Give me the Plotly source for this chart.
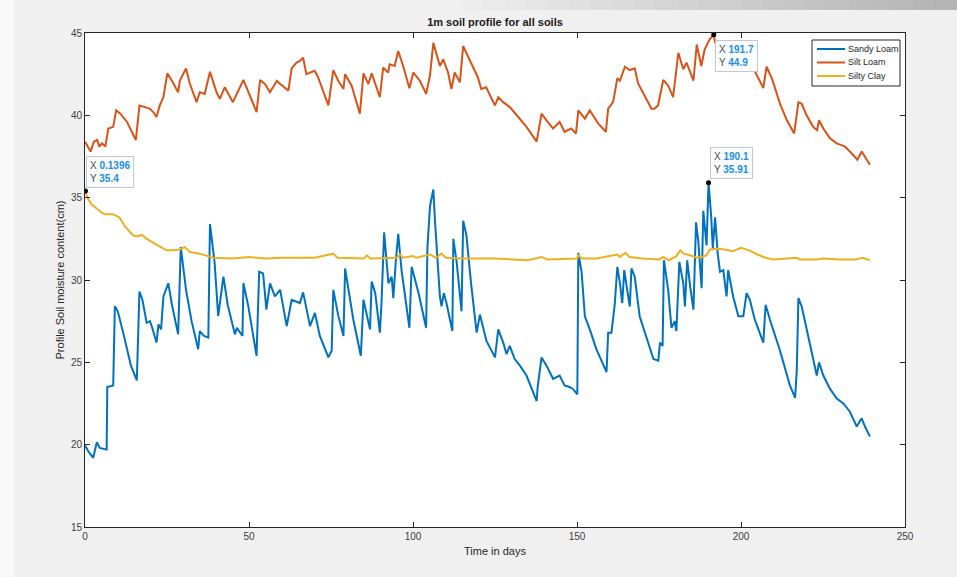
import plotly.graph_objects as go

# ---------------- data ----------------
sandy_days = [0, 1, 2.5, 3.6, 4.5, 6.6, 6.8, 8.6, 9.1, 10, 12, 14, 15.8, 16.6, 17.5, 18.8, 19.8, 20.5,
              21.8, 22.4, 23.2, 23.9, 25.4, 26.5, 28.4, 29.2, 30.8, 32.5, 34.5, 35, 36.3, 37.6, 38.1,
              39.5, 40.6, 42.2, 43.5, 45.7, 46.3, 47.5, 48, 48.3, 49.8, 52.3, 53.1, 54.3, 55.3, 56.4,
              57.9, 59.5, 61.5, 63, 65.5, 66.5, 68.6, 70.1, 71.6, 74.2, 75.2, 75.7, 77.2, 78.8, 79.3,
              81.8, 84.1, 84.9, 86.9, 87.4, 88.5, 89.9, 90.4, 91.2, 92.5, 93.5, 94.0, 94.7, 95.5, 96.5,
              98.9, 99.6, 101.7, 104, 104.4, 105.2, 106.2, 106.7, 108.2, 108.7, 109.4, 110.2, 112,
              112.3, 113.3, 114.8, 115.3, 116.3, 117.7, 119.4, 120.4, 122.4, 125, 126, 127.5, 128.5,
              129.5, 131, 132.6, 134.6, 137.7, 138, 139.2, 140.7, 142.7, 144.7, 146.2, 147.7, 148.7,
              150.1, 150.4, 151.4, 152.4, 153.9, 155.9, 159, 159.5, 160.5, 161.5, 162.3, 163.1, 163.8,
              164.4, 165.3, 166.1, 166.6, 167.6, 169.1, 171.8, 173.3, 174.8, 175.3, 176.1, 176.5,
              177.8, 178.8, 179.8, 180.3, 181.2, 182.4, 182.9, 183.6, 184.5, 185.5, 186.3, 187, 188,
              188.5, 189.5, 190.1, 190.9, 191.4, 192.1, 192.9, 193.6, 194.6, 195.6, 196.1, 197.6,
              199.2, 200.7, 201.7, 202.7, 204.2, 206.8, 207.5, 208.8, 211.9, 214.9, 216.5, 217, 217.5,
              218.5, 220, 222, 223.1, 223.8, 225.1, 227.1, 229.2, 231.2, 233.2, 235.3, 236.8, 237.8,
              239.3]
sandy_loam = [19.95, 19.6, 19.2, 20.15, 19.8, 19.7, 23.5, 23.6, 28.4, 28.1, 26.5, 24.8, 23.9, 29.3, 28.8,
              27.4, 27.5, 27.1, 26.2, 27.3, 27.0, 29.0, 29.8, 28.5, 26.7, 32.0, 29.4, 27.5, 25.8, 26.9,
              26.6, 26.5, 33.4, 31.1, 27.8, 30.2, 28.5, 26.7, 27.1, 26.7, 26.6, 29.8, 28.4, 25.4, 30.5,
              30.4, 28.2, 29.8, 29.0, 29.4, 27.2, 28.8, 28.6, 29.25, 27.2, 28.0, 26.6, 25.3, 25.7, 29.4,
              27.85, 26.6, 30.7, 27.6, 25.4, 28.8, 27.0, 29.9, 29.2, 26.8, 28.6, 32.9, 29.8, 30.2, 28.9,
              31.0, 32.8, 30.6, 27.1, 30.8, 29.2, 27.1, 32.0, 34.5, 35.5, 33.6, 29.0, 28.4, 29.2, 28.6,
              26.9, 32.5, 31.1, 28.1, 33.6, 32.7, 29.8, 26.8, 27.9, 26.3, 25.3, 27.0, 26.2, 25.5, 26.0,
              25.2, 24.8, 24.2, 22.65, 23.5, 25.3, 24.8, 24.0, 24.2, 23.6, 23.5, 23.4, 23.06, 31.65,
              30.5, 27.8, 27.0, 25.8, 24.4, 26.8, 26.8, 28.5, 30.8, 29.8, 28.6, 30.6, 29.4, 28.4, 30.7,
              30.2, 27.8, 26.2, 25.2, 25.1, 26.2, 26.0, 31.2, 29.4, 27.1, 27.5, 26.9, 31.1, 29.8, 28.4,
              31.2, 29.6, 28.2, 33.5, 32.3, 29.5, 34.2, 32.1, 35.91, 33.9, 31.9, 33.8, 31.6, 30.5, 30.6,
              29.0, 30.6, 29.0, 27.8, 27.8, 29.2, 28.8, 27.6, 26.2, 28.5, 27.6, 25.7, 23.6, 22.85, 24.5,
              28.9, 28.4, 27.0, 25.3, 24.2, 25.0, 24.2, 23.4, 22.8, 22.5, 22.0, 21.1, 21.6, 21.1, 20.5]

silt_days = [0, 0.8, 1.7, 2.7, 3.7, 4.4, 5.2, 6.2, 7.1, 8.6, 9.5, 10.8, 12.8, 15.5, 16.6, 18.3, 19.8, 20.8,
             21.8, 22.8, 23.9, 25.1, 26.5, 28.4, 28.9, 30.8, 32, 34, 35, 36.5, 38.1, 40.1, 41.1, 42.6,
             45.1, 48.3, 49.8, 52.3, 53.4, 54.9, 56.4, 58.5, 59.5, 62, 63, 64.5, 65.5, 66.5, 67.5, 70,
             71, 73, 74.2, 75.7, 77.2, 78.8, 79.3, 81.3, 83.8, 84.9, 86.4, 87.4, 89.9, 90.9, 92.4, 92.9,
             94.4, 95.5, 97, 98.9, 100.1, 102.1, 104, 105.2, 106.2, 108.2, 109.2, 110.7, 111.7, 112.7,
             114.3, 115.3, 117.3, 119.8, 120.8, 122.3, 125, 126, 127.5, 129.5, 132.1, 134.6, 137.7,
             139.2, 140.7, 142.7, 144.7, 146.2, 148.2, 149.7, 150.4, 152.4, 153.9, 156.5, 158.8, 159.5,
             161.0, 162.3, 163.1, 164.6, 166.1, 167.6, 168.6, 170.6, 172.7, 173.6, 174.7, 176.3, 177.8,
             179.3, 180.9, 182.4, 183.4, 185.5, 186.5, 187.9, 188.9, 190.4, 191.7, 192.1, 192.6, 195,
             198, 201, 203.5, 204.3, 206.8, 207.8, 209.5, 211.9, 214, 216.2, 216.9, 217.5, 218.5, 220,
             222, 223.2, 223.8, 225.1, 227.1, 229.2, 231.2, 231.7, 233.7, 235.5, 236.8, 237.8, 239.3]
silt_loam = [38.4, 38.1, 37.8, 38.4, 38.5, 38.1, 38.3, 38.1, 39.2, 39.3, 40.3, 40.1, 39.6, 38.5, 40.6, 40.5,
             40.4, 40.2, 39.9, 40.6, 41.1, 42.55, 42.1, 41.4, 42.1, 42.85, 41.9, 40.8, 41.4, 41.3, 42.65,
             41.4, 41.0, 41.7, 40.8, 42.15, 41.4, 40.2, 42.15, 41.9, 41.4, 42.1, 41.9, 41.5, 42.85, 43.2,
             43.3, 43.5, 42.5, 42.7, 42.35, 41.2, 40.6, 42.75, 42.1, 41.6, 42.5, 41.8, 40.1, 42.55, 41.9,
             42.55, 41.1, 42.9, 42.6, 43.1, 43.0, 43.9, 43.0, 41.65, 42.6, 42.1, 41.3, 42.45, 44.4, 43.0,
             43.4, 42.6, 41.6, 42.6, 42.0, 44.2, 43.35, 42.3, 41.6, 41.7, 40.6, 41.1, 40.8, 40.5, 39.9,
             39.3, 38.4, 40.1, 39.7, 39.2, 39.6, 39.0, 39.2, 38.9, 40.3, 39.8, 40.3, 39.5, 39.0, 40.4,
             40.8, 42.25, 42.1, 42.95, 42.75, 42.85, 41.95, 41.2, 40.4, 40.4, 40.6, 42.15, 41.8, 41.1,
             43.8, 42.8, 43.2, 42.1, 44.3, 43.0, 44.0, 44.6, 44.9, 44.4, 44.5, 43.6, 43.2, 43.0, 42.9,
             42.65, 41.65, 42.95, 42.2, 40.7, 39.7, 38.9, 39.9, 40.8, 40.7, 40.0, 39.3, 39.1, 39.7, 39.2,
             38.6, 38.3, 38.15, 38.1, 37.7, 37.3, 37.8, 37.5, 37.0]

clay_days = [0, 1, 2, 3.6, 5, 6.1, 8.5, 10.5, 12.2, 14.7, 16.2, 17.2, 18.8, 21.8, 24.9, 26.4, 28.9, 30.4,
             32, 35, 39.1, 45, 50, 55, 60, 65.5, 70, 75.7, 77, 85, 86, 87, 95, 96, 97, 100, 101, 105.2,
             107, 108.7, 110, 115, 125, 135, 139.2, 141, 150, 150.4, 151.5, 156, 162.3, 163, 164.8, 166,
             170, 175, 176.3, 178, 180.3, 181.5, 182.5, 184.5, 186.5, 188, 189.5, 190.5, 193, 195,
             197.5, 200, 202.5, 205, 207.5, 210, 214.9, 217, 218, 223, 225, 230, 235, 237, 239.3]
silty_clay = [35.4, 34.9, 34.6, 34.3, 34.1, 34.0, 34.0, 33.8, 33.25, 32.7, 32.65, 32.75, 32.5, 32.15, 31.8,
              31.8, 31.85, 32.0, 31.7, 31.6, 31.35, 31.3, 31.4, 31.3, 31.35, 31.35, 31.35, 31.6, 31.35,
              31.3, 31.5, 31.3, 31.35, 31.55, 31.35, 31.45, 31.35, 31.55, 31.35, 31.6, 31.35, 31.3, 31.3,
              31.2, 31.4, 31.25, 31.3, 31.5, 31.3, 31.3, 31.55, 31.4, 31.65, 31.4, 31.3, 31.25, 31.4,
              31.2, 31.45, 31.8, 31.6, 31.5, 31.35, 31.4, 31.5, 31.85, 31.9, 31.85, 31.75, 31.95, 31.8,
              31.55, 31.35, 31.25, 31.3, 31.35, 31.25, 31.25, 31.3, 31.25, 31.25, 31.35, 31.2]

tip_x = [0.1396, 191.7, 190.1]
tip_y = [35.4, 44.9, 35.91]
tip_xlabel = ["0.1396", "191.7", "190.1"]
tip_ylabel = ["35.4", "44.9", "35.91"]

series_names = ["Sandy Loam", "Silt Loam", "Silty Clay"]
series_colors = ["#0072BD", "#D95319", "#EDB120"]

x_ticks = [0, 50, 100, 150, 200, 250]
y_ticks = [15, 20, 25, 30, 35, 40, 45]

# ---------------- figure ----------------
FONT = "Liberation Sans Narrow, Liberation Sans, Arial, sans-serif"
L, R, T, B, W, H = 85, 52, 33, 50, 957, 577
PW, PH = W - L - R, H - T - B


def px2paper(px, py):
    return (px - L) / PW, (H - B - py) / PH


fig = go.Figure()
for xs, ys, nm, col in zip([sandy_days, silt_days, clay_days], [sandy_loam, silt_loam, silty_clay],
                           series_names, series_colors):
    fig.add_trace(go.Scatter(x=xs, y=ys, mode="lines", name=nm, showlegend=False,
                             line=dict(color=col, width=2)))
fig.add_trace(go.Scatter(x=tip_x, y=tip_y, mode="markers", showlegend=False,
                         marker=dict(color="black", size=5)))

# data tips
anchors = [("left", "bottom", 3), ("left", "top", -5), ("left", "bottom", 4)]
for (xa, ya, ys), x, y, xl, yl in zip(anchors, tip_x, tip_y, tip_xlabel, tip_ylabel):
    fig.add_annotation(
        x=x, y=y, xref="x", yref="y", showarrow=False, xanchor=xa, yanchor=ya, yshift=ys, xshift=1,
        align="left",
        text=f"X <b><span style='color:#1a8fe8'>{xl}</span></b><br>Y <b><span style='color:#1a8fe8'>{yl}</span></b>",
        font=dict(family=FONT, size=10, color="#4d4d4d"),
        bgcolor="#fbfcfd", bordercolor="#c4c8cc", borderwidth=1, borderpad=3)

# background decorations (screenshot frame)
shapes = []
x0, y0 = px2paper(0, 577)
x1, y1 = px2paper(14, 0)
shapes.append(dict(type="rect", xref="paper", yref="paper", x0=x0, x1=x1, y0=y0, y1=y1,
                   fillcolor="#f8f8f8", line=dict(width=0), layer="below"))
nstrip = 24
for i in range(nstrip):
    p0 = 440 + i * (517 / nstrip)
    p1 = p0 + 517 / nstrip + 1
    g = int(240 - 60 * (i / (nstrip - 1)))
    a0, b0 = px2paper(p0, 10)
    a1, b1 = px2paper(p1, 0)
    shapes.append(dict(type="rect", xref="paper", yref="paper", x0=a0, x1=a1, y0=b0, y1=b1,
                       fillcolor=f"rgb({g},{g},{g})", line=dict(width=0), layer="below"))

# compact MATLAB-style legend box
lx0, ly0 = px2paper(812, 86)
lx1, ly1 = px2paper(900, 40)
shapes.append(dict(type="rect", xref="paper", yref="paper", x0=lx0, x1=lx1, y0=ly0, y1=ly1,
                   fillcolor="white", line=dict(color="#262626", width=1), layer="above"))
for i, (nm, col) in enumerate(zip(series_names, series_colors)):
    rowy = 49 + i * 13.5
    a0, by = px2paper(817, rowy)
    a1, _ = px2paper(845, rowy)
    shapes.append(dict(type="line", xref="paper", yref="paper", x0=a0, x1=a1, y0=by, y1=by,
                       line=dict(color=col, width=2), layer="above"))
    tx, _ = px2paper(846, rowy)
    fig.add_annotation(x=tx, y=by, xref="paper", yref="paper", text=nm, showarrow=False,
                       xanchor="left", yanchor="middle",
                       font=dict(family=FONT, size=9, color="#262626"))

fig.update_layout(
    width=W, height=H,
    margin=dict(l=L, r=R, t=T, b=B),
    paper_bgcolor="#f0f0f0", plot_bgcolor="white",
    font=dict(family=FONT, size=10, color="#404040"),
    title=dict(text="<b>1m soil profile for all soils</b>", x=(L + PW / 2) / W, xanchor="center",
               y=1 - 22 / H, yanchor="middle", font=dict(family=FONT, size=11, color="#1a1a1a")),
    shapes=shapes,
    showlegend=False,
)
axis_common = dict(showline=True, linecolor="#262626", linewidth=1, mirror="ticks", ticks="inside",
                   ticklen=5, tickcolor="#262626", showgrid=False, zeroline=False,
                   tickfont=dict(family=FONT, size=10, color="#404040"))
fig.update_xaxes(range=[0, 250], tickvals=x_ticks, title=dict(text="Time in days", standoff=6,
                 font=dict(family=FONT, size=11, color="#262626")), **axis_common)
fig.update_yaxes(range=[15, 45], tickvals=y_ticks, title=dict(text="Profile Soil moisture content(cm)",
                 standoff=4, font=dict(family="Liberation Sans, Arial, sans-serif", size=11, color="#262626")),
                 **axis_common)

fig.write_html("out.html")
